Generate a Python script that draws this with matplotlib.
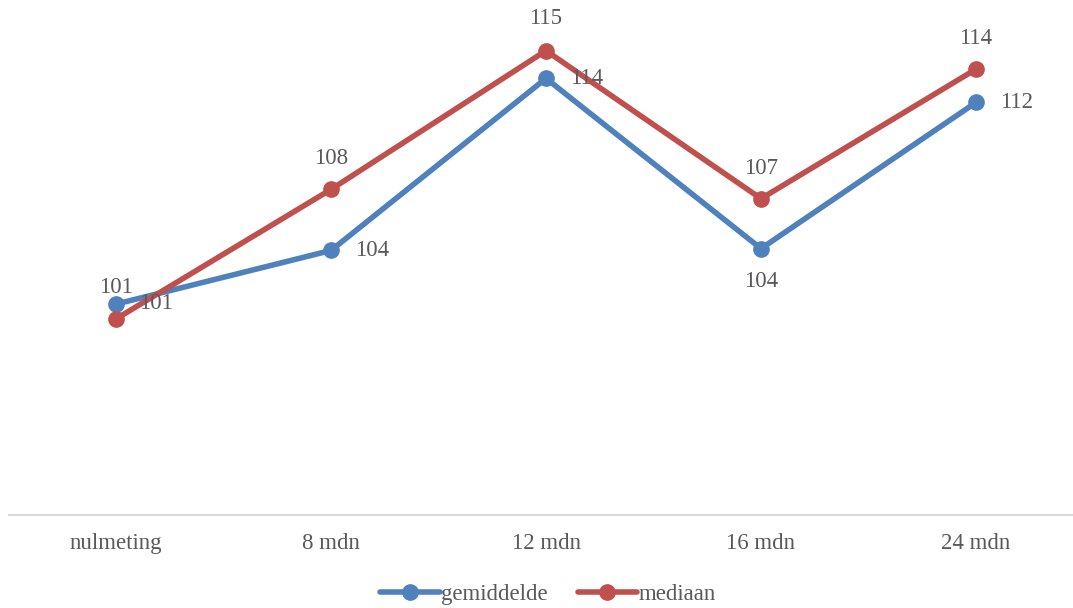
import matplotlib.pyplot as plt

# Categories and the two series
periods = ["nulmeting", "8 mdn", "12 mdn", "16 mdn", "24 mdn"]
gemiddelde = [101.4, 104.3, 113.6, 104.4, 112.3]
mediaan = [100.6, 107.6, 115.1, 107.1, 114.1]

# label offsets in pixels (dx, dy)
gem_offsets = [(0, 17), (41, 0), (41, 0), (0, -33), (41, 0)]
med_offsets = [(40, 15), (0, 31), (0, 32), (0, 30), (0, 31)]

BLUE = "#4F81BD"
RED = "#C0504D"
TEXT = "#595959"
FS = 16.5

plt.rcParams['font.family'] = ['Liberation Serif', 'DejaVu Serif']

fig = plt.figure(figsize=(10.73, 6.08), dpi=100)
ax = fig.add_axes([8.5 / 1073, 93 / 608, 1075 / 1073, 499.5 / 608])

x = list(range(len(periods)))
ax.plot(x, gemiddelde, color=BLUE, lw=4, marker='o', ms=11, label="gemiddelde",
        solid_capstyle='round')
ax.plot(x, mediaan, color=RED, lw=4, marker='o', ms=11, label="mediaan",
        solid_capstyle='round')

for xi, v, off in zip(x, gemiddelde, gem_offsets):
    ax.annotate(f"{v:.0f}", (xi, v), xytext=off, textcoords='offset pixels',
                ha='center', va='center', fontsize=FS, color=TEXT)
for xi, v, off in zip(x, mediaan, med_offsets):
    ax.annotate(f"{v:.0f}", (xi, v), xytext=off, textcoords='offset pixels',
                ha='center', va='center', fontsize=FS, color=TEXT)

ax.set_xlim(-0.5, 4.5)
ax.set_ylim(90, 117)
ax.set_xticks(x)
ax.set_xticklabels(periods, fontsize=FS, color=TEXT)
ax.tick_params(axis='x', length=0, pad=13)
ax.set_yticks([])
for side in ['top', 'right', 'left']:
    ax.spines[side].set_visible(False)
ax.spines['bottom'].set_color('#D9D9D9')
ax.spines['bottom'].set_linewidth(1.5)

fig.legend(loc='center', bbox_to_anchor=(548 / 1073, 1 - 594 / 608), ncol=2,
           frameon=False, fontsize=FS, handlelength=2.6, handletextpad=0.05,
           columnspacing=1.3, labelcolor=TEXT)

fig.savefig("out.png", dpi=100)
